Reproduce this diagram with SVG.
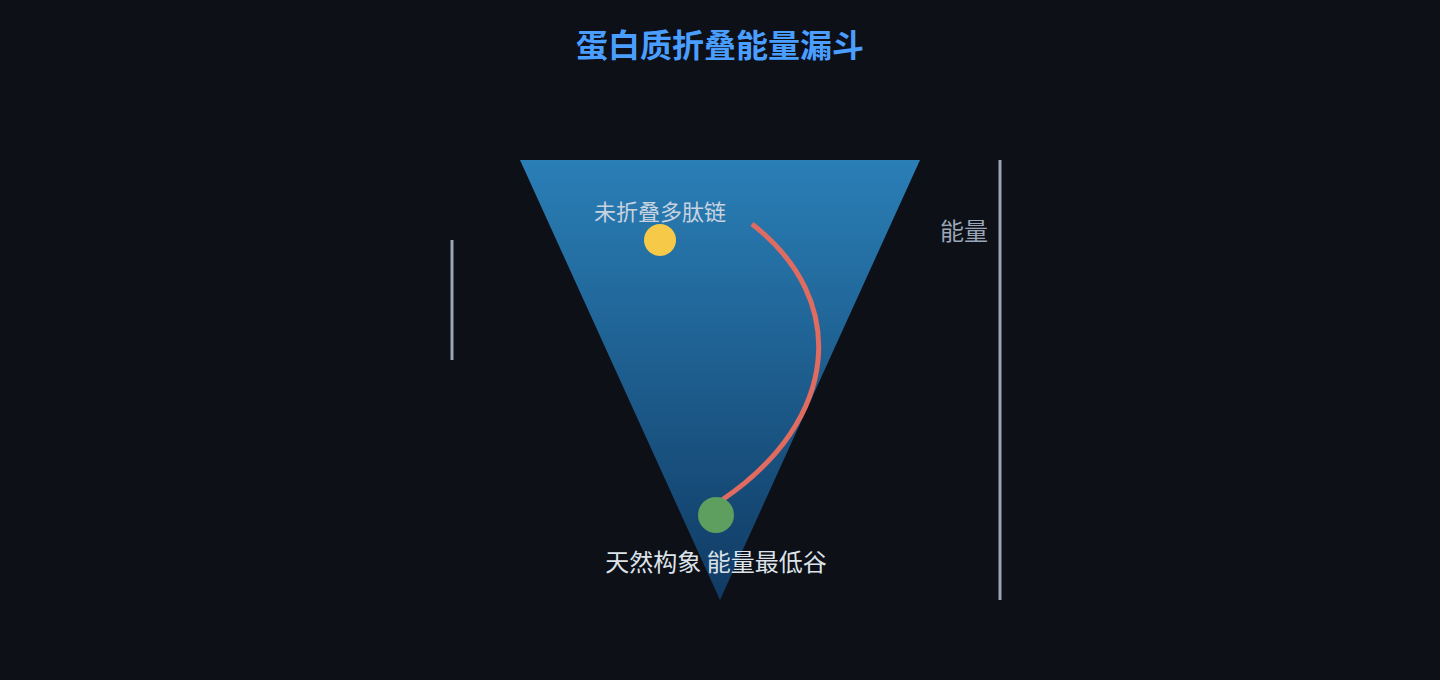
<svg xmlns="http://www.w3.org/2000/svg" width="1440" height="680" viewBox="0 0 1440 680">
<defs>
<linearGradient id="fg" x1="0" y1="0" x2="0" y2="1">
<stop offset="0" stop-color="#2a7fb7"/>
<stop offset="1" stop-color="#103a63"/>
</linearGradient>
<style>
.t{font-family:"Noto Sans CJK SC","Noto Sans",sans-serif}
.ax{stroke:#9aa5b8;stroke-width:3}
</style>
</defs>
<rect width="1440" height="680" fill="#0d1017"/>
<text class="t" x="720" y="57" text-anchor="middle" font-size="32" font-weight="bold" fill="#4a9eff">蛋白质折叠能量漏斗</text>
<g id="funnel">
<polygon points="520,160 920,160 720,600" fill="url(#fg)"/>
</g>
<g id="axes">
<line class="ax" x1="1000" y1="160" x2="1000" y2="600"/>
<line class="ax" x1="452" y1="240" x2="452" y2="360"/>
<text class="t" x="988" y="240" text-anchor="end" font-size="24" fill="#9aa5b8">能量</text>
</g>
<g id="connectors">
<path d="M752,224 C850,300 840,420 722,500" fill="none" stroke="#e06b60" stroke-width="5"/>
</g>
<g id="unfolded">
<circle cx="660" cy="240" r="16" fill="#f7c948"/>
<text class="t" x="660" y="220" text-anchor="middle" font-size="22" fill="#c8d3e0">未折叠多肽链</text>
</g>
<g id="native">
<circle cx="716" cy="515" r="18" fill="#5e9e5e"/>
<text class="t" x="716" y="571" text-anchor="middle" font-size="24" fill="#dde3ea">天然构象 能量最低谷</text>
</g>
</svg>
